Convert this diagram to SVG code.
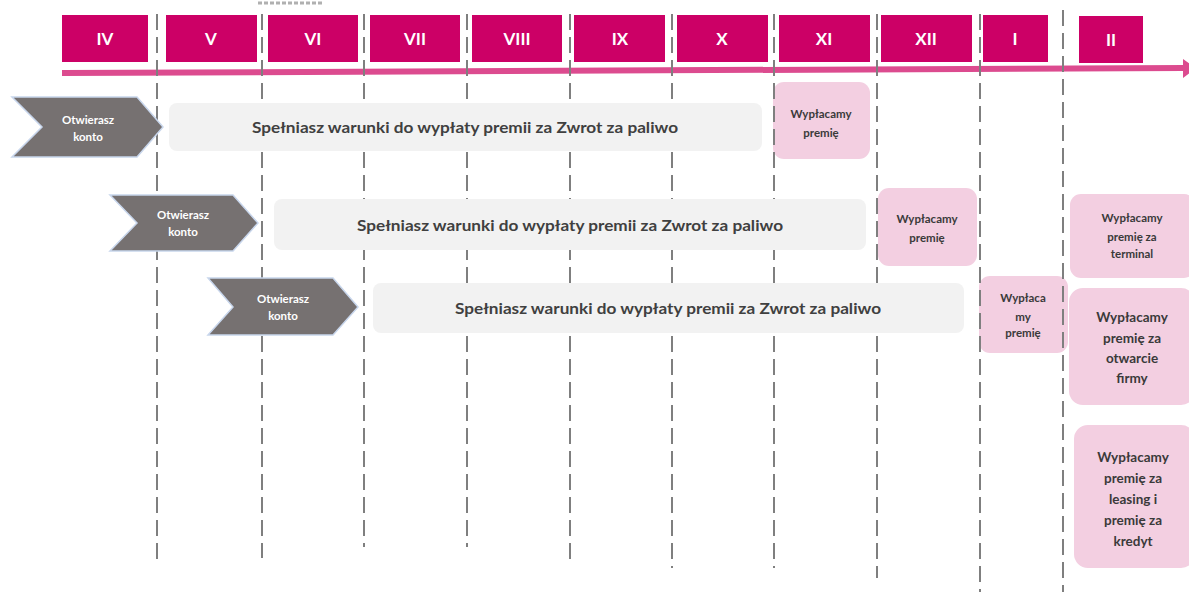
<svg xmlns="http://www.w3.org/2000/svg" width="1189" height="592" viewBox="0 0 1189 592">
<style>
.month rect{fill:#cc0066}
.month text{fill:#ffffff;font-family:Lato,"Liberation Sans",sans-serif;font-weight:bold;font-size:17px;text-anchor:middle}
.grid line{stroke:#7f7f7f;stroke-width:2;stroke-dasharray:16 7}
.chev polygon{fill:#767171;stroke:#c8d6ec;stroke-width:1.5}
.chev text{fill:#ffffff;font-family:Lato,"Liberation Sans",sans-serif;font-weight:bold;font-size:11.5px;text-anchor:middle}
.bar rect{fill:#f2f2f2}
.bar text{fill:#404040;font-family:Lato,"Liberation Sans",sans-serif;font-weight:bold;font-size:16px;text-anchor:middle}
.pay rect{fill:#f3cfe1}
.pay text{fill:#3a3a3a;font-family:Lato,"Liberation Sans",sans-serif;font-weight:bold;font-size:11.5px;text-anchor:middle}
.pay.big text{font-size:13.5px}
</style>
<rect width="1189" height="592" fill="#ffffff"/>
<line x1="258" y1="3" x2="322" y2="3" stroke="#b0b0b0" stroke-width="3" stroke-dasharray="4 2"/>

<g id="payouts">
<g id="pay1" class="pay"><rect x="773" y="82" width="97" height="77" rx="11"/><text x="821" y="118">Wypłacamy</text><text x="821" y="137">premię</text></g>
<g id="pay2" class="pay"><rect x="878" y="188" width="99" height="78" rx="11"/><text x="927" y="223">Wypłacamy</text><text x="927" y="242">premię</text></g>
<g id="pay3" class="pay"><rect x="1070" y="194" width="125" height="84" rx="11"/><text x="1132" y="222">Wypłacamy</text><text x="1132" y="241">premię za</text><text x="1132" y="258">terminal</text></g>
<g id="pay4" class="pay"><rect x="979" y="276" width="89" height="77" rx="11"/><text x="1023" y="302">Wypłaca</text><text x="1023" y="321">my</text><text x="1023" y="337">premię</text></g>
<g id="pay5" class="pay big"><rect x="1069" y="288" width="126" height="117" rx="14"/><text x="1132" y="322">Wypłacamy</text><text x="1132" y="343">premię za</text><text x="1132" y="363">otwarcie</text><text x="1132" y="383">firmy</text></g>
<g id="pay6" class="pay big"><rect x="1074" y="425" width="121" height="143" rx="14"/><text x="1133" y="462">Wypłacamy</text><text x="1133" y="483">premię za</text><text x="1133" y="504">leasing i</text><text x="1133" y="525">premię za</text><text x="1133" y="546">kredyt</text></g>
</g>

<g id="connectors">
<path id="timeline" d="M62 73 L1184 68" stroke="#dc4b8f" stroke-width="6" fill="none"/>
<polygon points="1183,59 1196,68 1183,78" fill="#dc4b8f"/>
<g class="grid">
<line x1="157" y1="14" x2="157" y2="560"/>
<line x1="262" y1="14" x2="262" y2="558"/>
<line x1="364" y1="14" x2="364" y2="547"/>
<line x1="467" y1="14" x2="467" y2="547"/>
<line x1="570" y1="14" x2="570" y2="560"/>
<line x1="672" y1="14" x2="672" y2="568"/>
<line x1="774" y1="14" x2="774" y2="568"/>
<line x1="877" y1="14" x2="877" y2="578"/>
<line x1="980" y1="14" x2="980" y2="592"/>
<line x1="1063" y1="10" x2="1063" y2="592"/>
</g>
</g>

<g id="months">
<g id="m-IV" class="month"><rect x="62" y="15" width="86" height="47"/><text x="105" y="45">IV</text></g>
<g id="m-V" class="month"><rect x="166" y="15" width="91" height="47"/><text x="211" y="45">V</text></g>
<g id="m-VI" class="month"><rect x="268" y="15" width="90" height="47"/><text x="313" y="45">VI</text></g>
<g id="m-VII" class="month"><rect x="370" y="15" width="90" height="47"/><text x="415" y="45">VII</text></g>
<g id="m-VIII" class="month"><rect x="472" y="15" width="90" height="47"/><text x="517" y="45">VIII</text></g>
<g id="m-IX" class="month"><rect x="574" y="15" width="91" height="47"/><text x="620" y="45">IX</text></g>
<g id="m-X" class="month"><rect x="677" y="15" width="91" height="47"/><text x="722" y="45">X</text></g>
<g id="m-XI" class="month"><rect x="779" y="15" width="91" height="47"/><text x="824" y="45">XI</text></g>
<g id="m-XII" class="month"><rect x="881" y="15" width="91" height="47"/><text x="926" y="45">XII</text></g>
<g id="m-I" class="month"><rect x="983" y="15" width="65" height="47"/><text x="1015" y="45">I</text></g>
<g id="m-II" class="month"><rect x="1079" y="16" width="64" height="47"/><text x="1111" y="46">II</text></g>
</g>

<g id="row1">
<g id="open1" class="chev"><polygon points="12,97 137,97 163,127 137,157 12,157 42,127"/><text x="88" y="124">Otwierasz</text><text x="88" y="141">konto</text></g>
<g id="bar1" class="bar"><rect x="169" y="103" width="593" height="48" rx="8"/><text x="465" y="133" textLength="426" lengthAdjust="spacingAndGlyphs">Spełniasz warunki do wypłaty premii za Zwrot za paliwo</text></g>
</g>
<g id="row2">
<g id="open2" class="chev"><polygon points="110,195 233,195 258,223 233,251 110,251 137,223"/><text x="183" y="219">Otwierasz</text><text x="183" y="236">konto</text></g>
<g id="bar2" class="bar"><rect x="274" y="199" width="592" height="51" rx="8"/><text x="570" y="231" textLength="426" lengthAdjust="spacingAndGlyphs">Spełniasz warunki do wypłaty premii za Zwrot za paliwo</text></g>
</g>
<g id="row3">
<g id="open3" class="chev"><polygon points="208,278 333,278 358,307 333,335 208,335 233,307"/><text x="283" y="303">Otwierasz</text><text x="283" y="320">konto</text></g>
<g id="bar3" class="bar"><rect x="373" y="283" width="591" height="50" rx="8"/><text x="668" y="314" textLength="426" lengthAdjust="spacingAndGlyphs">Spełniasz warunki do wypłaty premii za Zwrot za paliwo</text></g>
</g>
</svg>
